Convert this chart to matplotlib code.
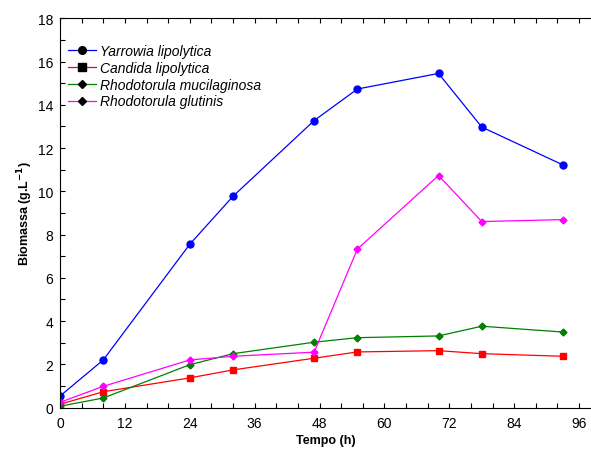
import matplotlib
matplotlib.use("Agg")
import matplotlib.pyplot as plt
from matplotlib.lines import Line2D
from matplotlib.ticker import MultipleLocator

plt.rcParams["font.family"] = ["Liberation Sans", "DejaVu Sans"]

# tempo (h)
tempo = [0, 8, 24, 32, 47, 55, 70, 78, 93]

# biomassa (g/L)
yarrowia = [0.53, 2.2, 7.55, 9.77, 13.27, 14.73, 15.45, 12.97, 11.22]
candida = [0.15, 0.73, 1.37, 1.74, 2.28, 2.57, 2.63, 2.49, 2.37]
rhodo_muc = [0.06, 0.44, 1.98, 2.49, 3.02, 3.23, 3.31, 3.76, 3.49]
rhodo_glu = [0.24, 0.98, 2.2, 2.37, 2.56, 7.33, 10.73, 8.6, 8.69]

nomes = ["Yarrowia lipolytica", "Candida lipolytica",
         "Rhodotorula mucilaginosa", "Rhodotorula glutinis"]
cores = ["#0000ff", "#ff0000", "#008000", "#ff00ff"]
marcadores = ["o", "s", "D", "D"]
tamanhos = [5, 5, 3.5, 3.5]

fig = plt.figure(figsize=(5.91, 4.52), dpi=100)
ax = fig.add_axes([0.1015, 0.0962, 0.8985, 0.8611])

series = [yarrowia, candida, rhodo_muc, rhodo_glu]
for y, c, m, s in zip(series, cores, marcadores, tamanhos):
    ax.plot(tempo, y, color=c, marker=m, markersize=s, linewidth=0.9,
            markerfacecolor=c, markeredgecolor=c)

ax.set_xlim(0, 98.2)
ax.set_ylim(0, 18)
ax.xaxis.set_major_locator(MultipleLocator(12))
ax.xaxis.set_minor_locator(MultipleLocator(4))
ax.yaxis.set_major_locator(MultipleLocator(2))
ax.yaxis.set_minor_locator(MultipleLocator(1))
ax.tick_params(which="both", direction="in", length=3.5, width=0.8,
               top=True, right=False, labelsize=10)
ax.tick_params(axis="x", pad=6)
ax.tick_params(axis="y", pad=5)
ax.spines["right"].set_visible(False)
for s in ["left", "bottom", "top"]:
    ax.spines[s].set_linewidth(0.8)

ax.set_xlabel("Tempo (h)", fontsize=9, fontweight="bold", labelpad=3)
ax.set_ylabel("Biomassa (g.L$^{\\mathbf{-1}}$)", fontsize=9, fontweight="bold", labelpad=2)

handles = [Line2D([0], [0], color=c, marker=m, markersize=s + 0.5, linewidth=0.9,
                  markerfacecolor="black", markeredgecolor="black")
           for c, m, s in zip(cores, marcadores, tamanhos)]
leg = ax.legend(handles, nomes, loc="upper left", bbox_to_anchor=(0.0, 0.955),
                frameon=False, handlelength=2.0, handletextpad=0.3,
                labelspacing=0.2, borderaxespad=0.2,
                prop={"style": "italic", "size": 10})

fig.savefig("out.png", dpi=100)
